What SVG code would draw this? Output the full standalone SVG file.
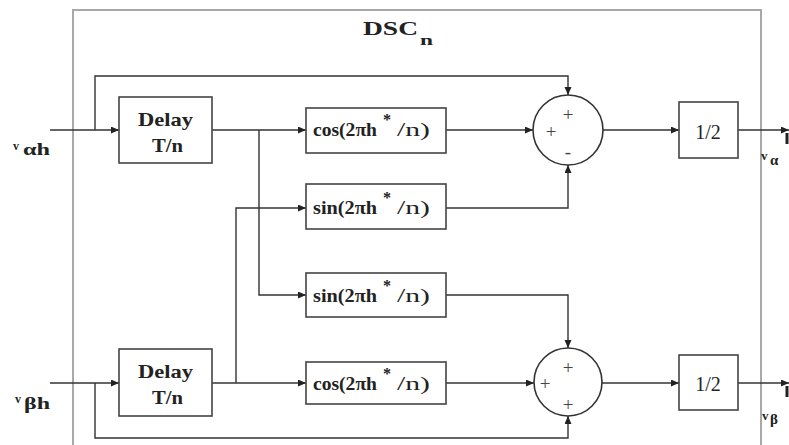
<svg xmlns="http://www.w3.org/2000/svg" width="789" height="445" viewBox="0 0 789 445" font-family="Liberation Serif, Times New Roman, serif">
<defs>
<marker id="arr" markerUnits="userSpaceOnUse" markerWidth="9" markerHeight="8" refX="8" refY="3.5" orient="auto">
<path d="M0,0 L8,3.5 L0,7 z" fill="#222"/>
</marker>
<style>
.box{fill:#fff;stroke:#444;stroke-width:1.6}
.sum{fill:#fff;stroke:#333;stroke-width:1.6}
.wire{fill:none;stroke:#333;stroke-width:1.4;marker-end:url(#arr)}
.frame{fill:none;stroke:#a8a8a8;stroke-width:2}
.t{font-weight:bold;fill:#222}
.r{fill:#222}
.sg{fill:#444;font-size:19px;text-anchor:middle}
</style>
</defs>
<rect width="789" height="445" fill="#fff"/>
<path class="frame" d="M73,445 V10 H761 V445"/>
<text class="t" x="363" y="35" font-size="18" textLength="55" lengthAdjust="spacingAndGlyphs">DSC</text>
<text class="t" x="420" y="45" font-size="15" textLength="13" lengthAdjust="spacingAndGlyphs">n</text>

<g id="connectors">
<path class="wire" d="M50,130 H119"/>
<path class="wire" d="M95,130 V76 H568 V95"/>
<path class="wire" d="M212,130 H306"/>
<path class="wire" d="M259,130 V295 H306"/>
<path class="wire" d="M50,383 H119"/>
<path class="wire" d="M212,383 H306"/>
<path class="wire" d="M236,383 V208 H306"/>
<path class="wire" d="M95,383 V438 H568 V416"/>
<path class="wire" d="M446,130 H533"/>
<path class="wire" d="M446,208 H568 V165"/>
<path class="wire" d="M603,130 H679"/>
<path class="wire" d="M738,130 H789"/>
<path class="wire" d="M446,295 H568 V348"/>
<path class="wire" d="M446,383 H534"/>
<path class="wire" d="M602,383 H679"/>
<path class="wire" d="M738,383 H789"/>
</g>

<g id="delay1">
<rect class="box" x="119" y="97" width="93" height="66"/>
<text class="t" x="138" y="126" font-size="19" textLength="55" lengthAdjust="spacingAndGlyphs">Delay</text>
<text class="t" x="152" y="152" font-size="19" textLength="31" lengthAdjust="spacingAndGlyphs">T/n</text>
</g>
<g id="delay2">
<rect class="box" x="119" y="349" width="93" height="67"/>
<text class="t" x="138" y="378" font-size="19" textLength="55" lengthAdjust="spacingAndGlyphs">Delay</text>
<text class="t" x="152" y="404" font-size="19" textLength="31" lengthAdjust="spacingAndGlyphs">T/n</text>
</g>

<g id="cos1">
<rect class="box" x="306" y="108" width="140" height="45"/>
<text class="t" x="313" y="136" font-size="18" textLength="64" lengthAdjust="spacingAndGlyphs">cos(2πh</text>
<text class="t" x="383" y="125" font-size="16">*</text>
<text class="r" x="397" y="136" font-size="18" textLength="33" lengthAdjust="spacingAndGlyphs">/n)</text>
</g>
<g id="sin1">
<rect class="box" x="306" y="184" width="140" height="45"/>
<text class="t" x="313" y="214" font-size="18" textLength="64" lengthAdjust="spacingAndGlyphs">sin(2πh</text>
<text class="t" x="383" y="203" font-size="16">*</text>
<text class="r" x="397" y="214" font-size="18" textLength="33" lengthAdjust="spacingAndGlyphs">/n)</text>
</g>
<g id="sin2">
<rect class="box" x="306" y="273" width="140" height="44"/>
<text class="t" x="313" y="302" font-size="18" textLength="64" lengthAdjust="spacingAndGlyphs">sin(2πh</text>
<text class="t" x="383" y="291" font-size="16">*</text>
<text class="r" x="397" y="302" font-size="18" textLength="33" lengthAdjust="spacingAndGlyphs">/n)</text>
</g>
<g id="cos2">
<rect class="box" x="306" y="362" width="140" height="42"/>
<text class="t" x="313" y="390" font-size="18" textLength="64" lengthAdjust="spacingAndGlyphs">cos(2πh</text>
<text class="t" x="383" y="379" font-size="16">*</text>
<text class="r" x="397" y="390" font-size="18" textLength="33" lengthAdjust="spacingAndGlyphs">/n)</text>
</g>

<g id="sum1">
<circle class="sum" cx="568" cy="130" r="35"/>
<text class="sg" x="568" y="121">+</text>
<text class="sg" x="551" y="138">+</text>
<text class="sg" x="568" y="158">-</text>
</g>
<g id="sum2">
<circle class="sum" cx="568" cy="382" r="34"/>
<text class="sg" x="568" y="374">+</text>
<text class="sg" x="545" y="390">+</text>
<text class="sg" x="568" y="411">+</text>
</g>

<g id="half1">
<rect class="box" x="679" y="102" width="59" height="56"/>
<text class="r" x="708" y="139" font-size="20" text-anchor="middle">1/2</text>
</g>
<g id="half2">
<rect class="box" x="679" y="355" width="59" height="55"/>
<text class="r" x="708" y="391" font-size="20" text-anchor="middle">1/2</text>
</g>

<g id="labels">
<text class="t" x="13" y="150" font-size="12">v</text>
<text class="t" x="23" y="155" font-size="16" textLength="27" lengthAdjust="spacingAndGlyphs">αh</text>
<text class="t" x="15" y="403" font-size="12">v</text>
<text class="t" x="24" y="409" font-size="16" textLength="26" lengthAdjust="spacingAndGlyphs">βh</text>
<text class="t" x="761" y="160" font-size="13">v</text>
<text class="t" x="770" y="165" font-size="15">α</text>
<text class="t" x="762" y="420" font-size="13">v</text>
<text class="t" x="770" y="424" font-size="15">β</text>
<line x1="787" y1="133" x2="787" y2="144" stroke="#222" stroke-width="3"/>
<line x1="787" y1="386" x2="787" y2="397" stroke="#222" stroke-width="3"/>
</g>
</svg>
